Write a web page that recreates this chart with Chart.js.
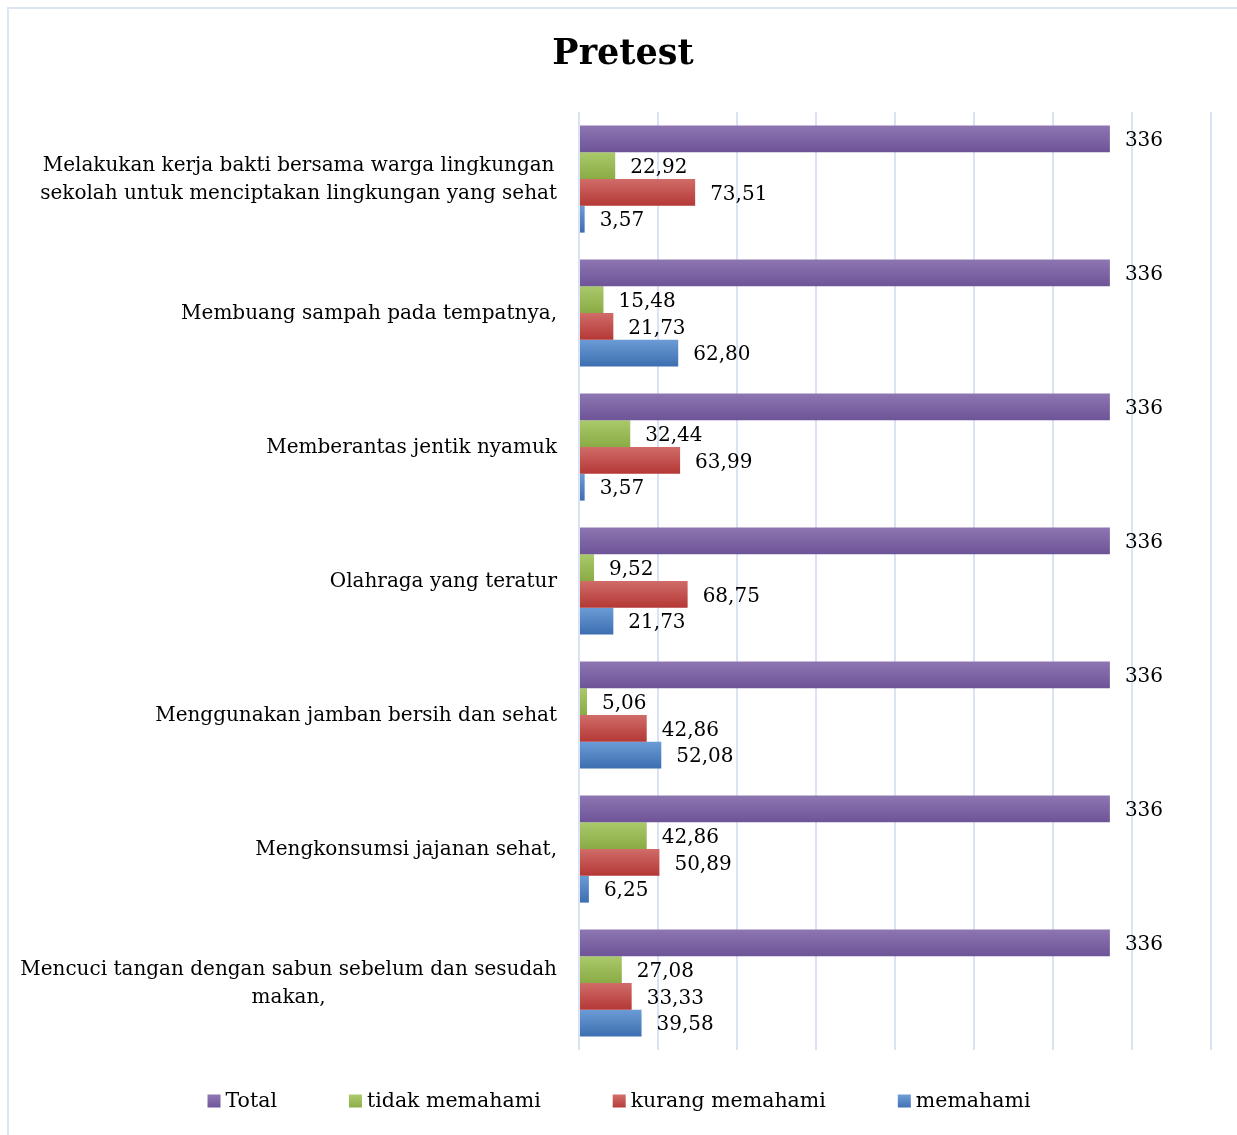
<!DOCTYPE html>
<html>
<head>
<meta charset="utf-8">
<title>Pretest</title>
<script src="https://cdn.jsdelivr.net/npm/chart.js@4.4.0/dist/chart.umd.min.js"></script>
<style>
  html, body { margin: 0; padding: 0; background: #fff; overflow: hidden; }
  #frame { position: absolute; left: 7px; top: 7px; width: 1240px; height: 1140px; border: 2px solid #dbe5f4; }
  #wrap { position: absolute; left: 0; top: 0; width: 1237px; height: 1135px; }
</style>
</head>
<body>
<div id="frame"></div>
<div id="wrap"><canvas id="chart"></canvas></div>
<script>
// categories, top to bottom
const categories = [
  ['Melakukan kerja bakti bersama warga lingkungan', 'sekolah untuk menciptakan lingkungan yang sehat'],
  'Membuang sampah pada tempatnya,',
  'Memberantas jentik nyamuk',
  'Olahraga yang teratur',
  'Menggunakan jamban bersih dan sehat',
  'Mengkonsumsi jajanan sehat,',
  ['Mencuci tangan dengan sabun sebelum dan sesudah', 'makan,']
];
const seriesLabels = ['Total', 'tidak memahami', 'kurang memahami', 'memahami'];
const totalValues = [336, 336, 336, 336, 336, 336, 336];
const tidakValues = [22.92, 15.48, 32.44, 9.52, 5.06, 42.86, 27.08];
const kurangValues = [73.51, 21.73, 63.99, 68.75, 42.86, 50.89, 33.33];
const memahamiValues = [3.57, 62.80, 3.57, 21.73, 52.08, 6.25, 39.58];
const xMax = 400;
const xStep = 50;

const SERIF = '"DejaVu Serif", "Liberation Serif", serif';

// top / bottom gradient colours (office 2007 look)
const palette = [
  { top: '#8d76b1', bottom: '#6e5498', flat: '#8064a2' },
  { top: '#aac96b', bottom: '#8aab44', flat: '#9bbb59' },
  { top: '#d06c69', bottom: '#b43835', flat: '#c0504d' },
  { top: '#6c9cd6', bottom: '#3c6eb0', flat: '#4f81bd' }
];

function fmt(v) {
  return Number.isInteger(v) ? String(v) : v.toFixed(2).replace('.', ',');
}

// vertical gradient on every bar (own options object per bar)
const gradientBars = {
  id: 'gradientBars',
  beforeDatasetsDraw(chart) {
    const ctx = chart.ctx;
    chart.data.datasets.forEach((ds, di) => {
      const meta = chart.getDatasetMeta(di);
      meta.data.forEach(el => {
        const top = el.y - el.height / 2;
        const g = ctx.createLinearGradient(0, top, 0, top + el.height);
        g.addColorStop(0, palette[di].top);
        g.addColorStop(1, palette[di].bottom);
        el.options = Object.assign({}, el.options, { backgroundColor: g });
      });
    });
  }
};

// numbers after bar ends
const valueLabels = {
  id: 'valueLabels',
  afterDatasetsDraw(chart) {
    const ctx = chart.ctx;
    ctx.save();
    ctx.font = '20px ' + SERIF;
    ctx.fillStyle = '#000';
    ctx.textAlign = 'left';
    ctx.textBaseline = 'middle';
    chart.data.datasets.forEach((ds, di) => {
      chart.getDatasetMeta(di).data.forEach((el, i) => {
        ctx.fillText(fmt(ds.data[i]), el.x + 15, el.y + 2);
      });
    });
    ctx.restore();
  }
};

// category labels: block right aligned, lines centred on each other
const categoryLabels = {
  id: 'categoryLabels',
  afterDraw(chart) {
    const ctx = chart.ctx;
    const yScale = chart.scales.y;
    const right = yScale.right - 22;
    const lineH = 28;
    ctx.save();
    ctx.font = '20px ' + SERIF;
    ctx.fillStyle = '#000';
    ctx.textAlign = 'center';
    ctx.textBaseline = 'middle';
    chart.data.labels.forEach((lbl, i) => {
      const lines = Array.isArray(lbl) ? lbl : [lbl];
      const widest = Math.max(...lines.map(l => ctx.measureText(l).width));
      const cx = right - widest / 2;
      const cy = yScale.getPixelForTick(i) + 1;
      const y0 = cy - (lines.length - 1) * lineH / 2;
      lines.forEach((l, k) => ctx.fillText(l, cx, y0 + k * lineH));
    });
    ctx.restore();
  }
};

// legend row at the bottom
const bottomLegend = {
  id: 'bottomLegend',
  afterDraw(chart) {
    const ctx = chart.ctx;
    const box = 13, gapText = 5, gapItem = 72, y = 1102;
    ctx.save();
    ctx.font = '20.5px ' + SERIF;
    ctx.textBaseline = 'middle';
    ctx.textAlign = 'left';
    const widths = chart.data.datasets.map(ds => box + gapText + ctx.measureText(ds.label).width);
    const total = widths.reduce((a, b) => a + b, 0) + gapItem * (widths.length - 1);
    let x = 619 - total / 2;
    chart.data.datasets.forEach((ds, di) => {
      const g = ctx.createLinearGradient(0, y - box / 2, 0, y + box / 2);
      g.addColorStop(0, palette[di].top);
      g.addColorStop(1, palette[di].bottom);
      ctx.fillStyle = g;
      ctx.fillRect(x, y - box / 2 - 1, box, box);
      ctx.fillStyle = '#000';
      ctx.fillText(ds.label, x + box + gapText, y);
      x += widths[di] + gapItem;
    });
    ctx.restore();
  }
};

const seriesValues = [totalValues, tidakValues, kurangValues, memahamiValues];

new Chart(document.getElementById('chart'), {
  type: 'bar',
  data: {
    labels: categories,
    datasets: seriesLabels.map((label, i) => ({
      label: label,
      data: seriesValues[i],
      backgroundColor: palette[i].flat,
      borderWidth: 0
    }))
  },
  options: {
    indexAxis: 'y',
    responsive: true,
    maintainAspectRatio: false,
    animation: false,
    categoryPercentage: 0.8,
    barPercentage: 1.0,
    layout: {
      padding: { left: 35, right: 26, top: 0, bottom: 85 }
    },
    scales: {
      x: {
        min: 0,
        max: xMax,
        ticks: { display: false, stepSize: xStep },
        grid: { color: '#d9e3f4', lineWidth: 2, drawTicks: false },
        border: { display: false }
      },
      y: {
        ticks: { display: false },
        grid: { display: false, drawTicks: false },
        border: { display: false },
        afterFit(scale) { scale.width = 544; }
      }
    },
    plugins: {
      legend: { display: false },
      tooltip: { enabled: false },
      title: {
        display: true,
        text: 'Pretest',
        color: '#000',
        font: { family: SERIF, size: 35, weight: 'bold', lineHeight: 1.2 },
        padding: { top: 34, bottom: 36 }
      }
    }
  },
  plugins: [gradientBars, valueLabels, categoryLabels, bottomLegend]
});
</script>
</body>
</html>
